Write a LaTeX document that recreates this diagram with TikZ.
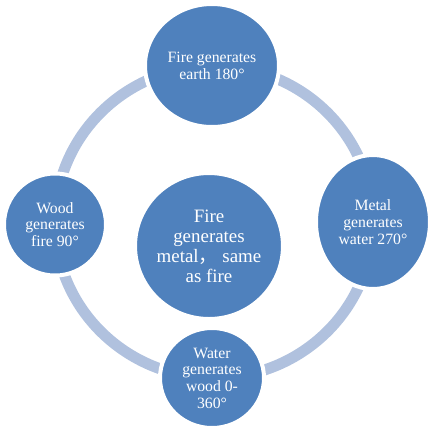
\documentclass[tikz,border=0pt]{standalone}
\usepackage{fontspec}
\setmainfont{Liberation Serif}
\newfontfamily\cjk{Noto Sans CJK SC}
\usetikzlibrary{shapes.geometric}
\definecolor{petal}{RGB}{79,129,189}
\definecolor{ringblue}{RGB}{176,193,222}

\begin{document}
\begin{tikzpicture}[x=0.75pt,y=0.75pt,yscale=-1,xscale=1,
  elem/.style={ellipse, fill=petal, draw=white, line width=3pt, inner sep=0pt, text=white, align=center},
  small/.style={font=\fontsize{11.8}{12.5}\selectfont}]
\useasboundingbox (0,0) rectangle (429,426);

%Ring
\coordinate (hub) at (214,222);
\draw [draw=ringblue, line width=8.25pt] (hub) ellipse [x radius=159, y radius=156];

%Ellipse top
\node [elem, minimum width=100.5pt, minimum height=92.25pt, font=\fontsize{11.8}{12.75}\selectfont] (earth) at (212,65.5) {Fire generates\\earth 180°};
%Ellipse right
\node [elem, small, minimum width=85.5pt, minimum height=100.5pt] (water) at (373,222) {Metal\\generates\\water 270°};
%Ellipse bottom
\node [elem, small, minimum width=78pt, minimum height=75pt] (wood) at (212,378) {Water\\generates\\wood 0-\\360°};
%Ellipse left
\node [elem, small, minimum width=76.5pt, minimum height=76.5pt] (fire) at (55,224.5) {Wood\\generates\\fire 90°};
%Ellipse centre
\node [elem, minimum width=109.5pt, minimum height=109.5pt, font=\fontsize{14.2}{15}\selectfont] (metal) at (209,246) {Fire\\generates\\metal{\cjk ，} same\\as fire};

\end{tikzpicture}
\end{document}
